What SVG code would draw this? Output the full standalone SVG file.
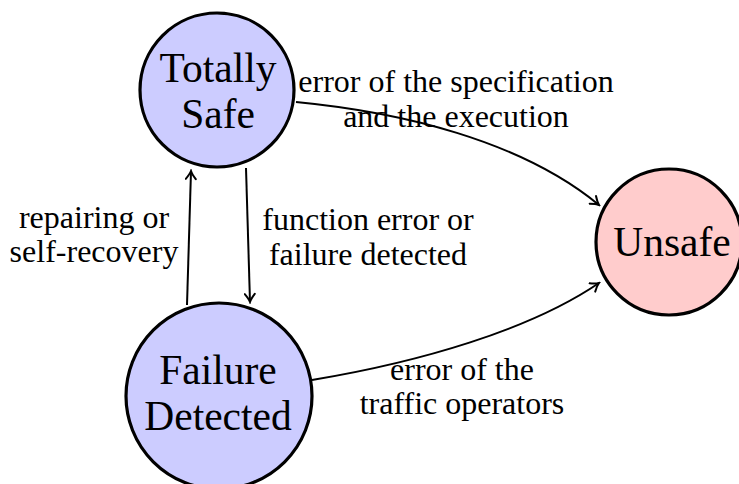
<svg xmlns="http://www.w3.org/2000/svg" width="739" height="484" viewBox="0 0 739 484">
  <style>
    .state { stroke: #000; stroke-width: 3.2; }
    .safe { fill: #ccccff; }
    .bad { fill: #ffcccc; }
    .name { font-family: "Liberation Serif", "DejaVu Serif", serif; font-size: 41.5px; fill: #000; text-anchor: middle; }
    .lbl { font-family: "Liberation Serif", "DejaVu Serif", serif; font-size: 32px; fill: #000; text-anchor: middle; }
    .edge { fill: none; stroke: #000; stroke-width: 2; marker-end: url(#tip); }
  </style>
  <defs>
    <marker id="tip" viewBox="-10 -6 12 12" refX="0" refY="0" markerWidth="12" markerHeight="12" markerUnits="userSpaceOnUse" orient="auto">
      <path d="M -8 -5 Q -3 -1 0 0 Q -3 1 -8 5" fill="none" stroke="#000" stroke-width="2" stroke-linecap="round"/>
    </marker>
  </defs>

  <g id="connectors">
    <path class="edge" d="M 296 102 C 400 112 520 140 599 205"/>
    <path class="edge" d="M 312 380 C 420 362 530 330 599 283"/>
    <path class="edge" d="M 187 305 L 191 171"/>
    <path class="edge" d="M 246 168 L 250 302"/>
  </g>

  <g id="totally-safe">
    <circle class="state safe" cx="217" cy="90" r="77"/>
    <text class="name" x="218" y="82">Totally</text>
    <text class="name" x="218" y="128">Safe</text>
  </g>

  <g id="failure-detected">
    <circle class="state safe" cx="219" cy="396" r="93"/>
    <text class="name" x="218" y="384">Failure</text>
    <text class="name" x="218" y="430">Detected</text>
  </g>

  <g id="unsafe">
    <circle class="state bad" cx="669" cy="242" r="73"/>
    <text class="name" x="672" y="256">Unsafe</text>
  </g>

  <g id="labels">
    <text class="lbl" x="456" y="92">error of the specification</text>
    <text class="lbl" x="456" y="127">and the execution</text>
    <text class="lbl" x="94" y="228">repairing or</text>
    <text class="lbl" x="94" y="262">self-recovery</text>
    <text class="lbl" x="368" y="230">function error or</text>
    <text class="lbl" x="368" y="265">failure detected</text>
    <text class="lbl" x="462" y="380">error of the</text>
    <text class="lbl" x="462" y="414">traffic operators</text>
  </g>
</svg>
